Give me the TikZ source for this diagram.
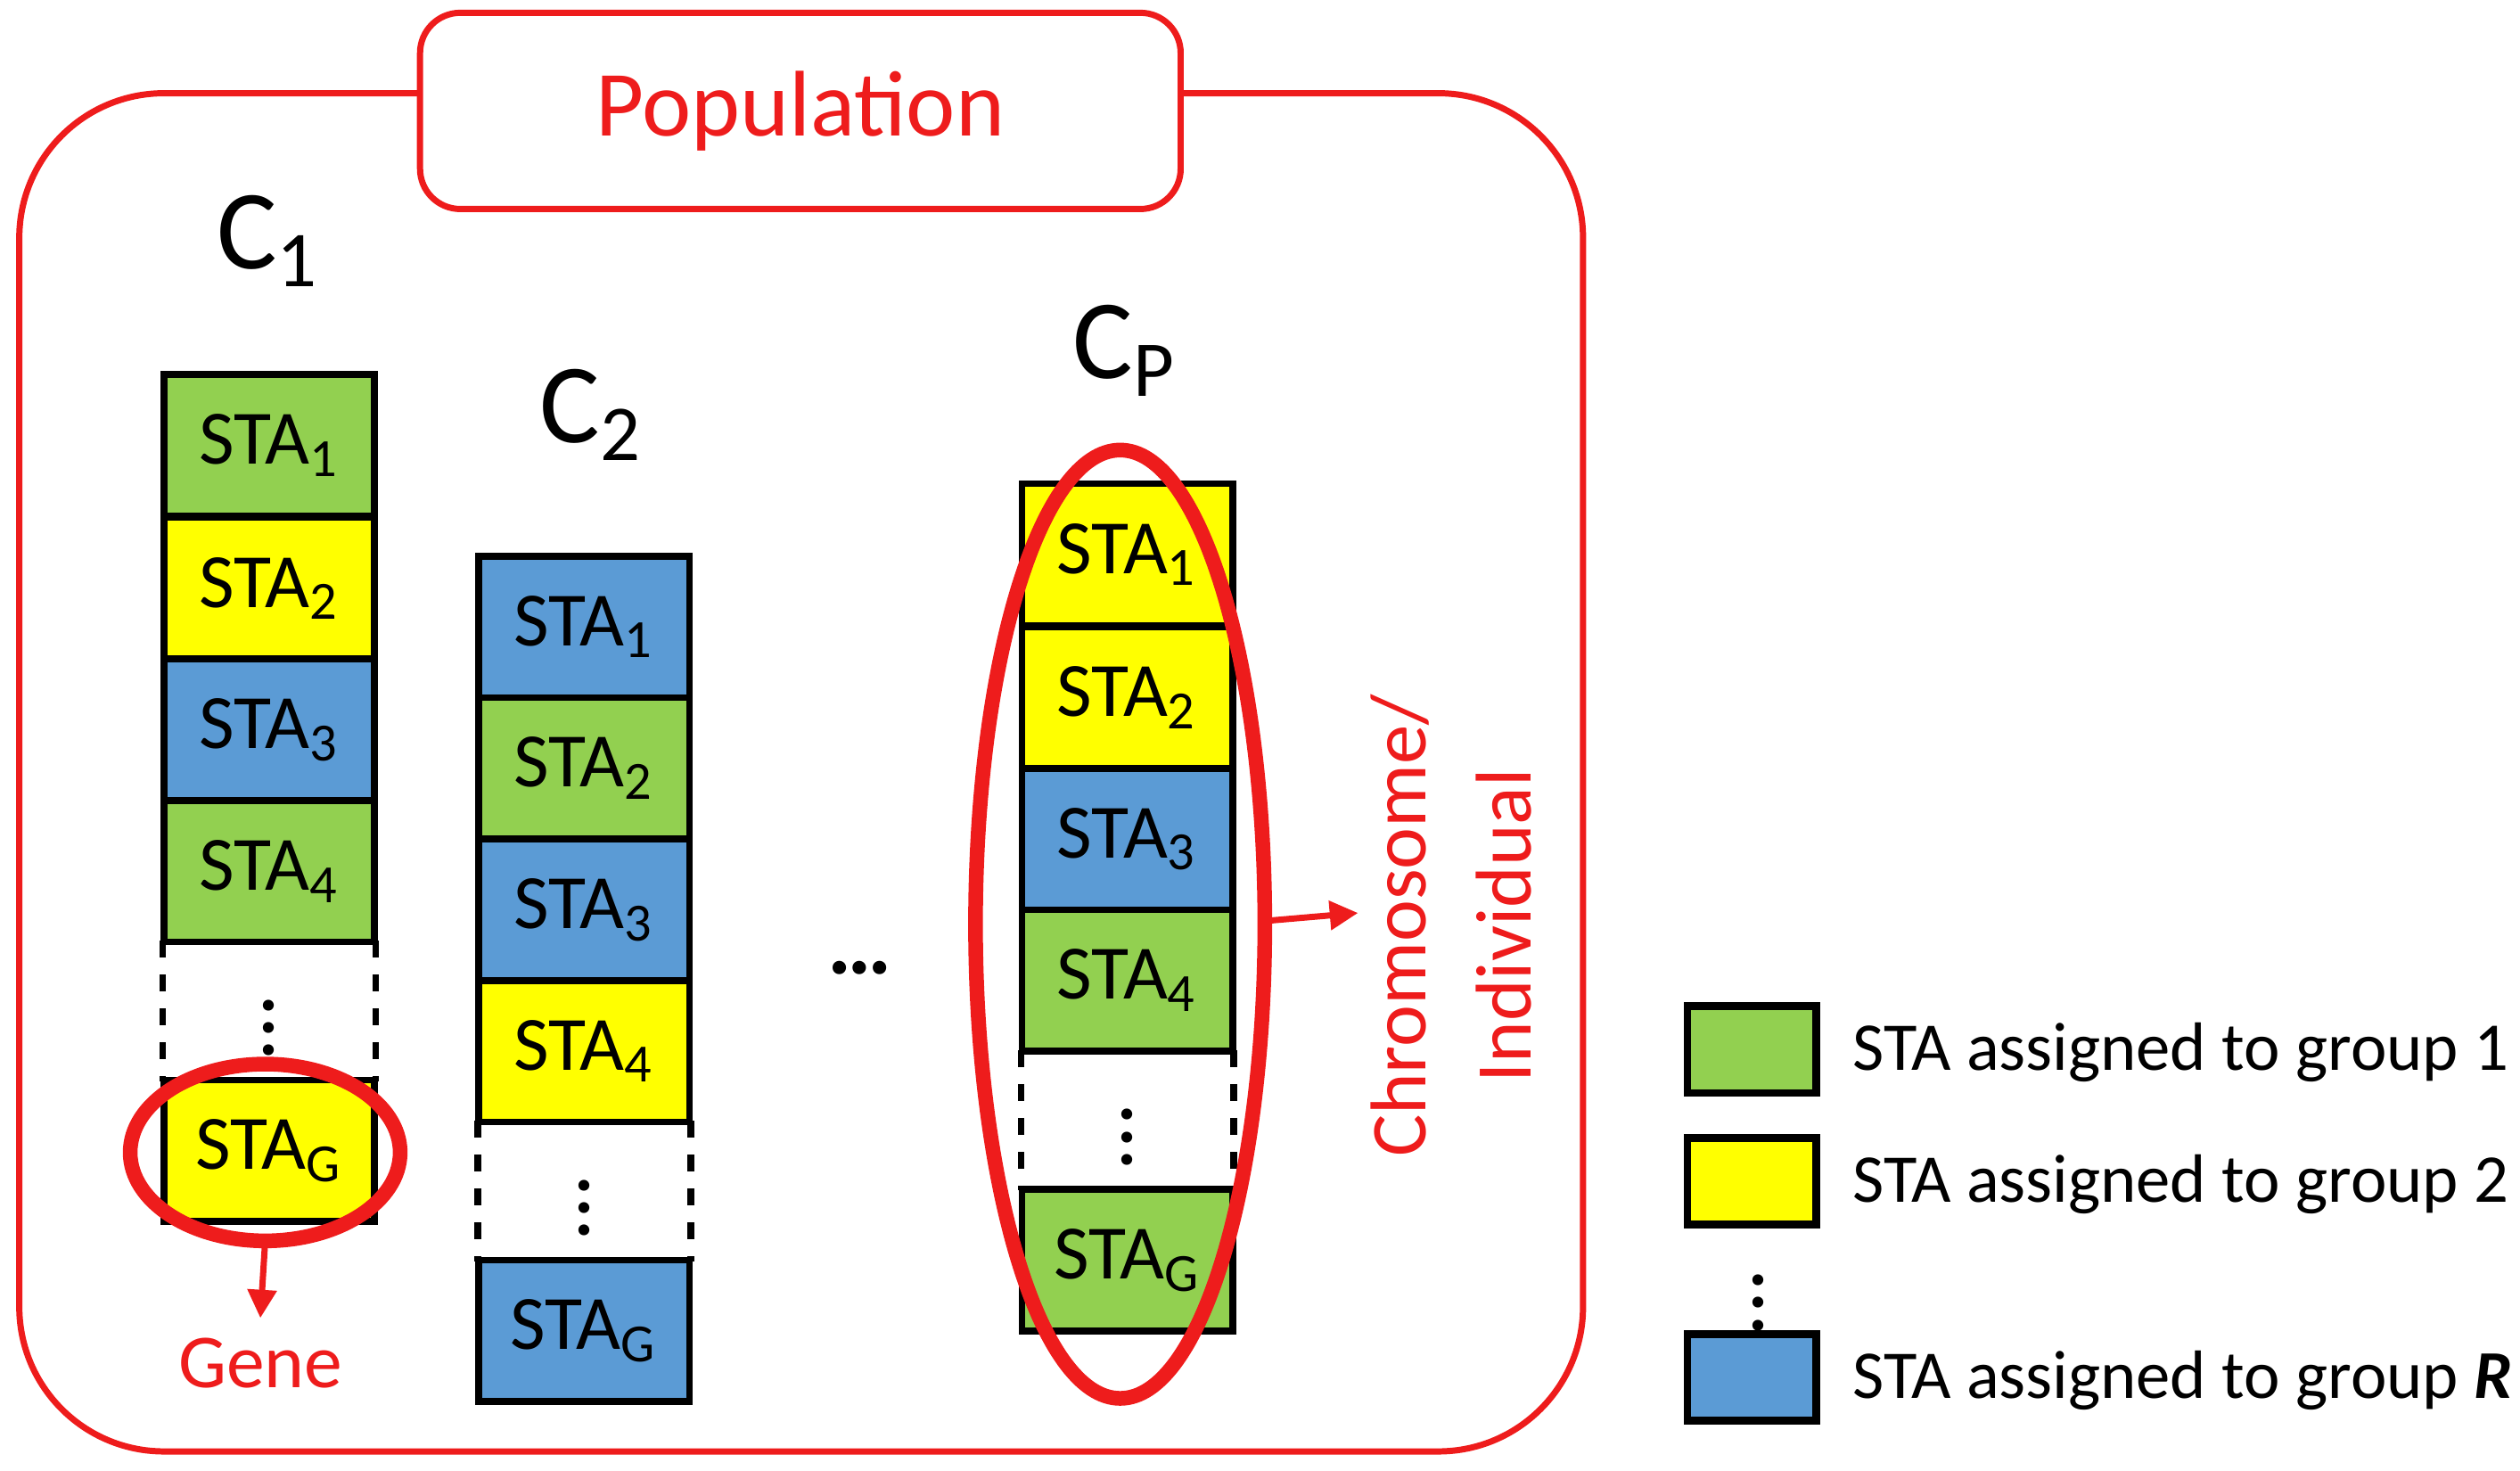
\documentclass[tikz,border=0pt]{standalone}
\usepackage{fontspec}
\setmainfont{Carlito}
\usetikzlibrary{arrows.meta}
\definecolor{gA}{HTML}{92D050}
\definecolor{gB}{HTML}{FFFF00}
\definecolor{gC}{HTML}{5B9BD5}
\definecolor{rd}{HTML}{EE1C1C}
\newcommand\stalab[1]{STA\textsubscript{#1}}
\begin{document}
\begin{tikzpicture}[x=0.01cm,y=-0.01cm,
  cell/.style={draw=black,line width=1.2pt,minimum width=1.31cm,minimum height=0.88cm,inner sep=0,font=\fontsize{13.6}{14}\selectfont},
  dcell/.style={minimum width=1.31cm,minimum height=0.86cm,inner sep=0,font=\fontsize{13}{14}\selectfont},
  lab/.style={font=\fontsize{20}{22}\selectfont},
  leg/.style={draw=black,line width=1.4pt,minimum width=0.8cm,minimum height=0.54cm,inner sep=0},
  legt/.style={anchor=west,font=\fontsize{12.1}{13}\selectfont,inner sep=0},
  redl/.style={draw=rd,line width=1.1pt},
  redt/.style={text=rd},
  arr/.style={draw=rd,line width=1.1pt,-{Triangle[length=5pt,width=5pt]}}]
\useasboundingbox (0,0) rectangle (1568,915);
\draw[redl,rounded corners=0.9cm] (12,58) rectangle (985,903);
\node[redl,fill=white,rounded corners=0.25cm,minimum width=4.73cm,minimum height=1.22cm,font=\fontsize{16.5}{18}\selectfont,redt] (pop) at (498,69) {Population};
\node[lab] (c1) at (167,150) {C\textsubscript{1}};
\node[lab] (c2) at (368,258) {C\textsubscript{2}};
\node[lab] (cp) at (700,218) {C\textsubscript{P}};
% column 1
\node[cell,fill=gA] (a1) at (167.5,277) {\stalab{1}};
\node[cell,fill=gB] (a2) at (167.5,366) {\stalab{2}};
\node[cell,fill=gC] (a3) at (167.5,454) {\stalab{3}};
\node[cell,fill=gA] (a4) at (167.5,542) {\stalab{4}};
\node[dcell] (ad) at (167.5,629) {\textbf{$\vdots$}};
\node[cell,fill=gB] (ag) at (167.5,716) {\stalab{G}};
\draw[line width=1.2pt,dashed] (ad.north west)--(ad.south west) (ad.north east)--(ad.south east);
% column 2
\node[cell,fill=gC] (b1) at (363.5,390) {\stalab{1}};
\node[cell,fill=gA] (b2) at (363.5,478) {\stalab{2}};
\node[cell,fill=gC] (b3) at (363.5,566) {\stalab{3}};
\node[cell,fill=gB] (b4) at (363.5,654) {\stalab{4}};
\node[dcell] (bd) at (363.5,741) {\textbf{$\vdots$}};
\node[cell,fill=gC] (bg) at (363.5,828) {\stalab{G}};
\draw[line width=1.2pt,dashed] (bd.north west)--(bd.south west) (bd.north east)--(bd.south east);
% column P
\node[cell,fill=gB] (p1) at (701.5,345) {\stalab{1}};
\node[cell,fill=gB] (p2) at (701.5,434) {\stalab{2}};
\node[cell,fill=gC] (p3) at (701.5,522) {\stalab{3}};
\node[cell,fill=gA] (p4) at (701.5,610) {\stalab{4}};
\node[dcell] (pd) at (701.5,697) {\textbf{$\vdots$}};
\node[cell,fill=gA] (pg) at (701.5,784) {\stalab{G}};
\draw[line width=1.2pt,dashed] (pd.north west)--(pd.south west) (pd.north east)--(pd.south east);
\node[font=\fontsize{16}{16}\bfseries\selectfont] (hd) at (535,602) {…};
% gene
\draw[draw=rd,line width=2.6pt] (165,717) ellipse [x radius=84,y radius=55];
\coordinate (gs) at (165,772);
\node[redt,font=\fontsize{13.5}{15}\selectfont] (gene) at (162,848) {Gene};
\draw[arr] (gs) -- (gene.north);
% chromosome
\draw[draw=rd,line width=2.6pt] (697,575) ellipse [x radius=90,y radius=295];
\coordinate (cs) at (787,573);
\node[redt,rotate=90,align=center,font=\fontsize{14}{18.5}\selectfont] (chr) at (903,576) {Chromosome/\\Individual};
\draw[arr] (cs) -- (845,568);
% legend
\node[leg,fill=gA] (l1) at (1090,653) {};
\node[leg,fill=gB] (l2) at (1090,735) {};
\node[leg,fill=gC] (l3) at (1090,857) {};
\node[font=\fontsize{13}{13}\selectfont] (ld) at (1094,800) {\textbf{$\vdots$}};
\node[legt] (t1) at (1152,655) {STA assigned to group 1};
\node[legt] (t2) at (1152,737) {STA assigned to group 2};
\node[legt] (t3) at (1152,859) {STA assigned to group \textbf{\textit{R}}};
\end{tikzpicture}
\end{document}
